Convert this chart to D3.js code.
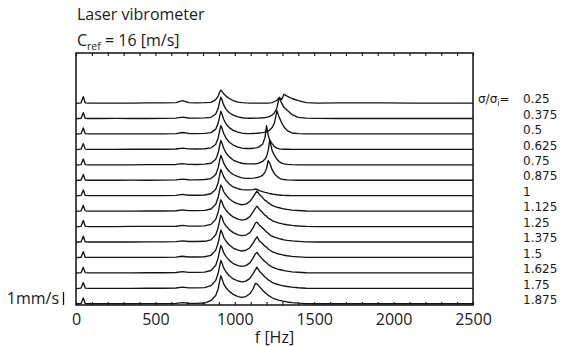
<!DOCTYPE html>
<html>
<head>
<meta charset="utf-8">
<script src="https://cdn.jsdelivr.net/npm/d3@7"></script>
<style>
  body { margin: 0; background: #fff; }
  svg { display: block; font-family: "Open Sans", "Noto Sans", sans-serif; fill: #1a1a1a; }
  .trace { fill: none; stroke: #141414; stroke-width: 1.35; stroke-linejoin: round; }
  .frame { fill: none; stroke: #111; stroke-width: 1.5; }
  .axis line { stroke: #111; stroke-width: 1.1; }
  .axis path { display: none; }
  .axis text { font-size: 16px; fill: #1a1a1a; font-family: "Open Sans", sans-serif; }
  .sigma { font-family: "DejaVu Sans", sans-serif; font-size: 12px; }
</style>
</head>
<body>
<svg id="chart" width="562" height="347"></svg>
<script>
// frequency grid (Hz) shared by all spectra
const freqHz = [
  0, 32, 46, 58, 80, 150, 250, 350, 450, 550,
  630, 670, 710, 760, 810, 850, 880, 895, 905, 912,
  920, 930, 945, 965, 990, 1020, 1045, 1070, 1095, 1115,
  1130, 1140, 1155, 1175, 1190, 1200, 1210, 1220, 1235, 1250,
  1265, 1280, 1295, 1310, 1330, 1360, 1400, 1450, 1520, 1650,
  1800, 1950, 2100, 2300, 2500
];

const sigmaLabels = ['0.25', '0.375', '0.5', '0.625', '0.75', '0.875', '1',
  '1.125', '1.25', '1.375', '1.5', '1.625', '1.75', '1.875'];

const xTicks = [0, 500, 1000, 1500, 2000, 2500];

// velocity amplitude, mm/s
const amp_0_25 = [
  0, 0.04, 0.55, 0.04, 0.02, 0.02, 0.02, 0.02, 0.03, 0.03,
  0.05, 0.22, 0.06, 0.04, 0.05, 0.08, 0.3, 0.6, 0.95, 1.1,
  0.98, 0.8, 0.6, 0.4, 0.22, 0.1, 0.05, 0.03, 0.02, 0.02,
  0.02, 0.02, 0.02, 0.02, 0.02, 0.02, 0.02, 0.03, 0.06, 0.15,
  0.25, 0.47, 0.33, 0.75, 0.6, 0.4, 0.22, 0.05, 0.02, 0.03,
  0.04, 0.04, 0.02, 0.02, 0.02
];
const amp_0_375 = [
  0, 0.04, 0.5, 0.04, 0.02, 0.02, 0.03, 0.02, 0.02, 0.03,
  0.05, 0.14, 0.06, 0.05, 0.07, 0.12, 0.4, 0.85, 1.45, 1.8,
  1.55, 1.15, 0.78, 0.5, 0.3, 0.15, 0.08, 0.05, 0.04, 0.04,
  0.05, 0.05, 0.06, 0.08, 0.1, 0.12, 0.15, 0.2, 0.3, 0.5,
  0.9, 1.8, 1.3, 0.95, 0.7, 0.35, 0.12, 0.05, 0.03, 0.02,
  0.02, 0.02, 0.02, 0.02, 0.02
];
const amp_0_5 = [
  0, 0.04, 0.52, 0.04, 0.02, 0.02, 0.02, 0.02, 0.03, 0.03,
  0.05, 0.14, 0.06, 0.05, 0.07, 0.13, 0.42, 0.9, 1.5, 1.9,
  1.65, 1.25, 0.85, 0.55, 0.32, 0.17, 0.09, 0.06, 0.05, 0.06,
  0.07, 0.08, 0.1, 0.13, 0.17, 0.2, 0.26, 0.35, 0.55, 0.95,
  1.95, 1.4, 0.95, 0.6, 0.3, 0.1, 0.05, 0.03, 0.02, 0.02,
  0.02, 0.02, 0.02, 0.02, 0.02
];
const amp_0_625 = [
  0, 0.04, 0.5, 0.04, 0.02, 0.02, 0.02, 0.03, 0.03, 0.03,
  0.05, 0.12, 0.06, 0.05, 0.07, 0.14, 0.45, 0.95, 1.6, 2.0,
  1.75, 1.35, 0.95, 0.62, 0.38, 0.2, 0.12, 0.09, 0.09, 0.11,
  0.14, 0.17, 0.25, 0.45, 1.0, 2.0, 1.2, 0.8, 0.5, 0.25,
  0.12, 0.06, 0.04, 0.03, 0.03, 0.02, 0.02, 0.02, 0.02, 0.02,
  0.02, 0.02, 0.02, 0.02, 0.02
];
const amp_0_75 = [
  0, 0.04, 0.5, 0.04, 0.02, 0.02, 0.02, 0.02, 0.03, 0.03,
  0.05, 0.12, 0.06, 0.05, 0.08, 0.15, 0.48, 1.0, 1.65, 2.05,
  1.8, 1.4, 1.0, 0.68, 0.42, 0.24, 0.15, 0.11, 0.1, 0.1,
  0.11, 0.12, 0.18, 0.3, 0.5, 0.7, 1.2, 2.1, 1.2, 0.8,
  0.5, 0.28, 0.16, 0.1, 0.06, 0.03, 0.02, 0.02, 0.02, 0.02,
  0.02, 0.02, 0.02, 0.02, 0.02
];
const amp_0_875 = [
  0, 0.04, 0.5, 0.04, 0.02, 0.02, 0.02, 0.03, 0.02, 0.03,
  0.05, 0.12, 0.06, 0.05, 0.08, 0.16, 0.5, 1.05, 1.7, 2.1,
  1.85, 1.45, 1.08, 0.75, 0.5, 0.32, 0.22, 0.18, 0.18, 0.2,
  0.22, 0.25, 0.3, 0.42, 0.7, 1.0, 1.65, 1.45, 0.9, 0.55,
  0.35, 0.2, 0.12, 0.08, 0.05, 0.03, 0.02, 0.02, 0.02, 0.02,
  0.02, 0.02, 0.02, 0.02, 0.02
];
const amp_1 = [
  0, 0.04, 0.5, 0.04, 0.02, 0.02, 0.02, 0.02, 0.03, 0.03,
  0.05, 0.13, 0.06, 0.06, 0.08, 0.18, 0.55, 1.1, 1.75, 2.2,
  1.95, 1.6, 1.3, 1.0, 0.75, 0.6, 0.52, 0.5, 0.5, 0.52,
  0.58, 0.55, 0.45, 0.36, 0.3, 0.27, 0.23, 0.2, 0.16, 0.13,
  0.1, 0.08, 0.06, 0.05, 0.04, 0.03, 0.02, 0.02, 0.02, 0.02,
  0.02, 0.02, 0.02, 0.02, 0.02
];
const amp_1_125 = [
  0, 0.04, 0.5, 0.04, 0.02, 0.02, 0.02, 0.02, 0.03, 0.03,
  0.05, 0.13, 0.06, 0.06, 0.08, 0.2, 0.6, 1.15, 1.8, 2.2,
  2.0, 1.65, 1.35, 1.05, 0.8, 0.62, 0.55, 0.6, 0.82, 1.2,
  1.5, 1.7, 1.4, 1.15, 0.92, 0.85, 0.7, 0.64, 0.5, 0.42,
  0.35, 0.3, 0.25, 0.2, 0.16, 0.11, 0.07, 0.03, 0.02, 0.02,
  0.02, 0.02, 0.02, 0.02, 0.02
];
const amp_1_25 = [
  0, 0.04, 0.52, 0.04, 0.02, 0.02, 0.02, 0.03, 0.03, 0.03,
  0.05, 0.12, 0.06, 0.06, 0.08, 0.2, 0.62, 1.2, 1.85, 2.25,
  2.05, 1.68, 1.38, 1.08, 0.82, 0.64, 0.56, 0.62, 0.85, 1.25,
  1.55, 1.72, 1.45, 1.2, 0.95, 0.9, 0.72, 0.66, 0.52, 0.44,
  0.37, 0.31, 0.26, 0.21, 0.17, 0.12, 0.07, 0.03, 0.02, 0.02,
  0.02, 0.02, 0.02, 0.02, 0.02
];
const amp_1_375 = [
  0, 0.04, 0.5, 0.04, 0.02, 0.02, 0.02, 0.02, 0.03, 0.03,
  0.05, 0.12, 0.06, 0.06, 0.08, 0.2, 0.62, 1.2, 1.85, 2.25,
  2.05, 1.66, 1.35, 1.05, 0.8, 0.62, 0.55, 0.6, 0.8, 1.2,
  1.6, 1.68, 1.42, 1.18, 0.98, 0.86, 0.74, 0.62, 0.5, 0.43,
  0.36, 0.3, 0.25, 0.2, 0.16, 0.11, 0.07, 0.03, 0.02, 0.02,
  0.02, 0.02, 0.02, 0.02, 0.02
];
const amp_1_5 = [
  0, 0.04, 0.5, 0.04, 0.02, 0.02, 0.02, 0.02, 0.03, 0.03,
  0.05, 0.12, 0.06, 0.06, 0.08, 0.2, 0.63, 1.22, 1.88, 2.3,
  2.08, 1.7, 1.37, 1.06, 0.8, 0.63, 0.56, 0.62, 0.83, 1.22,
  1.55, 1.74, 1.4, 1.16, 0.95, 0.88, 0.72, 0.64, 0.5, 0.42,
  0.35, 0.3, 0.25, 0.2, 0.16, 0.11, 0.07, 0.03, 0.02, 0.02,
  0.02, 0.02, 0.02, 0.02, 0.02
];
const amp_1_625 = [
  0, 0.04, 0.48, 0.04, 0.02, 0.02, 0.02, 0.02, 0.03, 0.03,
  0.05, 0.12, 0.06, 0.06, 0.08, 0.22, 0.65, 1.25, 1.9, 2.3,
  2.1, 1.7, 1.38, 1.06, 0.8, 0.62, 0.56, 0.63, 0.85, 1.25,
  1.62, 1.72, 1.45, 1.15, 0.97, 0.87, 0.73, 0.63, 0.51, 0.43,
  0.36, 0.3, 0.26, 0.21, 0.16, 0.11, 0.07, 0.03, 0.02, 0.02,
  0.02, 0.02, 0.02, 0.02, 0.02
];
const amp_1_75 = [
  0, 0.04, 0.5, 0.04, 0.02, 0.02, 0.02, 0.02, 0.03, 0.03,
  0.05, 0.12, 0.06, 0.06, 0.08, 0.24, 0.68, 1.25, 1.92, 2.35,
  2.1, 1.72, 1.38, 1.06, 0.8, 0.63, 0.56, 0.62, 0.85, 1.24,
  1.58, 1.78, 1.44, 1.17, 0.96, 0.86, 0.73, 0.65, 0.52, 0.43,
  0.36, 0.3, 0.26, 0.21, 0.17, 0.12, 0.07, 0.03, 0.02, 0.02,
  0.02, 0.02, 0.02, 0.02, 0.02
];
const amp_1_875 = [
  0, 0.04, 0.5, 0.04, 0.02, 0.02, 0.02, 0.02, 0.03, 0.03,
  0.05, 0.12, 0.06, 0.05, 0.08, 0.3, 0.7, 1.25, 1.95, 2.35,
  2.08, 1.68, 1.35, 1.05, 0.8, 0.62, 0.55, 0.62, 0.85, 1.25,
  1.72, 1.66, 1.45, 1.15, 0.95, 0.85, 0.72, 0.65, 0.52, 0.43,
  0.36, 0.3, 0.26, 0.22, 0.17, 0.12, 0.07, 0.03, 0.02, 0.02,
  0.02, 0.02, 0.02, 0.02, 0.02
];

const spectra = [amp_0_25, amp_0_375, amp_0_5, amp_0_625, amp_0_75, amp_0_875, amp_1,
  amp_1_125, amp_1_25, amp_1_375, amp_1_5, amp_1_625, amp_1_75, amp_1_875];

const svg = d3.select('#chart');
const plotTop = 53;
const plotBottom = 305;

const x = d3.scaleLinear().domain([0, 2500]).range([76, 473]);
const baseline = d3.scalePoint().domain(sigmaLabels).range([103.3, 304]);
const amp = d3.scaleLinear().domain([0, 1]).range([0, 12]); // 12px per mm/s

// traces
const line = d3.line()
  .x((d, i) => x(freqHz[i]))
  .y(d => d);

svg.append('g')
  .selectAll('path')
  .data(sigmaLabels)
  .join('path')
  .attr('class', 'trace')
  .attr('d', (s, k) => line(spectra[k].map(a => baseline(s) - amp(a))));

// frame + ticks
svg.append('rect')
  .attr('class', 'frame')
  .attr('x', x(0))
  .attr('y', plotTop)
  .attr('width', x(2500) - x(0))
  .attr('height', plotBottom - plotTop);

const minorTicks = d3.range(0, 2501, 100);

svg.append('g')
  .attr('class', 'axis')
  .attr('transform', `translate(0,${plotBottom})`)
  .call(d3.axisBottom(x)
    .tickValues(minorTicks)
    .tickSize(-3)
    .tickSizeOuter(0)
    .tickPadding(9)
    .tickFormat(d => (xTicks.includes(d) ? d : '')));

svg.append('g')
  .attr('class', 'axis')
  .attr('transform', `translate(0,${plotTop})`)
  .call(d3.axisTop(x)
    .tickValues(minorTicks)
    .tickSize(-3)
    .tickSizeOuter(0)
    .tickFormat(''));

svg.append('text')
  .attr('x', (x(0) + x(2500)) / 2)
  .attr('y', 343)
  .attr('text-anchor', 'middle')
  .style('font-size', '16px')
  .text('f [Hz]');

// title lines
svg.append('text')
  .attr('x', 77)
  .attr('y', 20)
  .style('font-size', '16px')
  .text('Laser vibrometer');

const cref = svg.append('text')
  .attr('x', 77)
  .attr('y', 46)
  .style('font-size', '16px');
cref.append('tspan').text('C');
cref.append('tspan').attr('dy', 4).style('font-size', '10.5px').text('ref');
cref.append('tspan').attr('dy', -4).text(' = 16 [m/s]');

// sigma labels on the right
svg.append('g')
  .selectAll('text')
  .data(sigmaLabels)
  .join('text')
  .attr('class', 'sigma')
  .attr('x', 523)
  .attr('y', d => baseline(d))
  .text(d => d);

const sig = svg.append('text')
  .attr('class', 'sigma')
  .attr('x', 478)
  .attr('y', baseline(sigmaLabels[0]));
sig.append('tspan').text('σ/σ');
sig.append('tspan').attr('dy', 3).style('font-size', '8px').text('i');
sig.append('tspan').attr('dy', -3).text('=');

// 1 mm/s scale bar
const lastBase = baseline(sigmaLabels[sigmaLabels.length - 1]);
svg.append('line')
  .attr('x1', 63.5).attr('x2', 63.5)
  .attr('y1', lastBase - amp(1)).attr('y2', lastBase + 1)
  .attr('stroke', '#111')
  .attr('stroke-width', 1.3);

svg.append('text')
  .attr('x', 59)
  .attr('y', lastBase)
  .attr('text-anchor', 'end')
  .style('font-size', '16px')
  .text('1mm/s');
</script>
</body>
</html>
